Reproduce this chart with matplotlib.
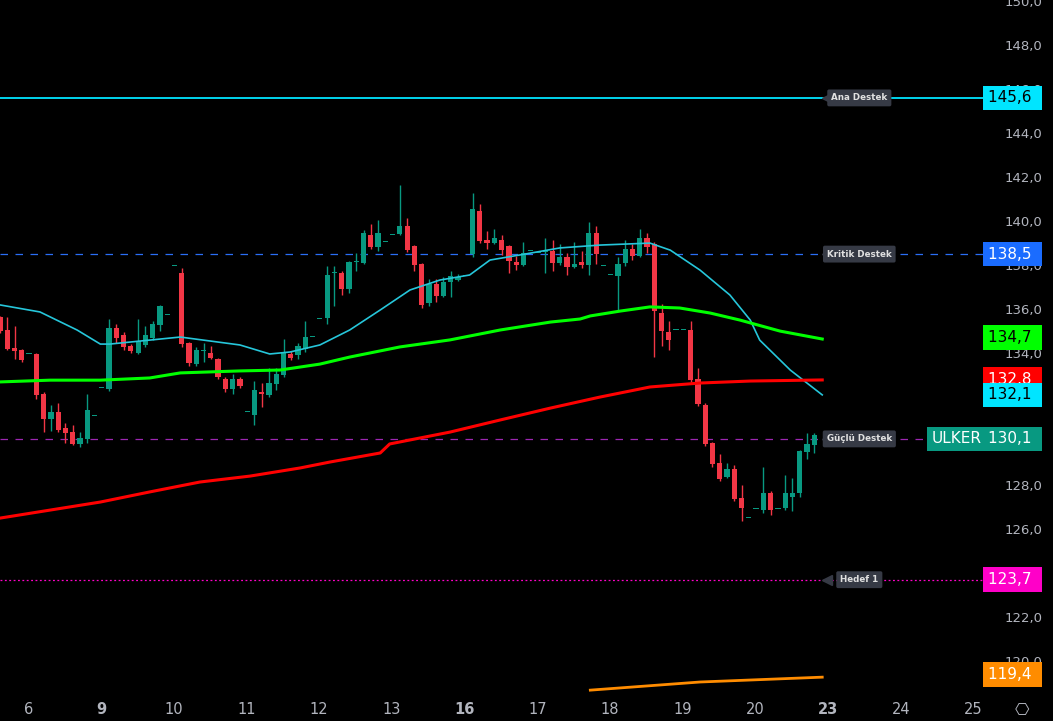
import matplotlib
matplotlib.use("Agg")
import matplotlib.pyplot as plt
import numpy as np
from matplotlib.ticker import FuncFormatter

UP = "#089981"
DOWN = "#f23645"

# hourly candles: open, high, low, close
opens = [135.64, 135.05, 134.23, 134.14, 133.96, 133.96, 132.14, 131.0, 131.32, 130.59,
         130.41, 129.86, 130.1, 131.14, 132.41, 132.36, 135.14, 134.82, 134.32, 134.0,
         134.36, 134.68, 135.27, 135.73, 137.96, 137.64, 134.45, 133.5, 134.1, 134.0,
         133.73, 132.82, 132.36, 132.82, 131.32, 131.18, 132.23, 132.1, 132.6, 133.0,
         133.96, 133.91, 134.18, 134.73, 135.55, 135.6, 137.64, 137.64, 136.91, 138.14,
         138.1, 139.37, 138.82, 139.05, 139.37, 139.41, 139.77, 138.86, 138.05, 136.27,
         137.14, 136.59, 137.23, 137.32, 137.5, 138.5, 140.45, 139.14, 139.0, 139.14,
         138.86, 138.14, 138.0, 138.64, 138.55, 138.6, 138.64, 138.1, 138.36, 137.91,
         138.14, 138.0, 139.46, 137.96, 137.55, 137.5, 138.1, 138.73, 138.41, 139.23,
         138.96, 135.82, 134.96, 135.05, 135.05, 135.05, 132.82, 131.64, 129.91, 129.0,
         128.36, 128.73, 127.41, 126.5, 126.91, 126.86, 127.64, 126.91, 126.95, 127.46,
         127.64, 129.5, 129.82]
highs = [135.7, 135.64, 135.23, 134.2, 133.96, 134.0, 132.23, 131.64, 131.73, 130.82,
         130.73, 130.41, 132.14, 131.14, 132.41, 135.55, 135.32, 134.95, 134.4, 135.55,
         135.23, 135.45, 136.2, 135.73, 137.96, 137.87, 134.5, 134.3, 134.45, 134.32,
         133.8, 132.9, 133.05, 132.9, 131.32, 132.73, 132.64, 133.32, 133.32, 134.64,
         134.1, 134.45, 135.45, 134.73, 135.55, 137.96, 137.96, 137.73, 138.2, 138.55,
         139.6, 139.86, 140.05, 139.05, 139.37, 141.64, 140.14, 138.9, 138.1, 137.37,
         137.37, 137.46, 137.73, 137.6, 137.5, 141.27, 140.77, 139.55, 139.64, 139.37,
         138.9, 138.41, 139.05, 138.64, 138.55, 139.23, 139.14, 138.95, 138.55, 139.05,
         138.64, 139.96, 139.77, 137.96, 137.55, 138.37, 139.14, 138.96, 139.64, 139.46,
         139.05, 136.23, 135.46, 135.05, 135.05, 135.46, 133.32, 131.73, 129.95, 129.41,
         129.0, 128.91, 128.0, 126.5, 126.91, 128.82, 127.73, 126.91, 128.45, 128.32,
         129.6, 130.37, 130.37]
lows = [134.9, 134.14, 133.73, 133.6, 133.96, 131.9, 130.41, 130.45, 130.41, 129.91,
        129.82, 129.73, 129.91, 131.14, 132.41, 132.3, 134.45, 134.14, 134.0, 133.95,
        134.3, 134.6, 135.0, 135.73, 137.96, 134.3, 133.41, 133.41, 133.6, 133.73,
        132.82, 132.23, 132.14, 132.4, 131.32, 130.73, 131.55, 132.0, 132.32, 132.91,
        133.7, 133.73, 134.05, 134.73, 135.55, 135.32, 136.14, 136.64, 136.73, 137.73,
        138.05, 138.75, 138.64, 139.05, 139.37, 139.35, 138.6, 137.73, 136.05, 136.14,
        136.32, 136.55, 136.55, 137.3, 137.5, 138.36, 139.0, 138.73, 138.95, 138.46,
        137.64, 137.77, 137.95, 138.64, 138.55, 137.64, 137.73, 138.0, 137.55, 137.85,
        137.86, 137.55, 138.05, 137.96, 137.55, 135.96, 137.96, 138.23, 138.36, 138.55,
        133.82, 134.32, 134.14, 135.05, 135.05, 132.7, 131.6, 129.8, 128.82, 128.2,
        128.32, 127.3, 126.36, 126.5, 126.91, 126.73, 126.64, 126.91, 126.86, 126.82,
        127.46, 129.18, 129.46]
closes = [135.0, 134.19, 134.1, 133.68, 133.96, 132.1, 131.0, 131.32, 130.5, 130.36,
          129.86, 130.14, 131.41, 131.14, 132.41, 135.14, 134.68, 134.27, 134.1, 134.55,
          134.82, 135.32, 136.14, 135.73, 137.96, 134.41, 133.55, 134.14, 134.14, 133.77,
          132.91, 132.36, 132.82, 132.5, 131.32, 132.32, 132.14, 132.64, 133.05, 134.05,
          133.77, 134.32, 134.73, 134.73, 135.55, 137.55, 137.64, 136.91, 138.14, 138.14,
          139.46, 138.82, 139.46, 139.05, 139.37, 139.77, 138.68, 138.0, 136.18, 137.14,
          136.59, 137.23, 137.5, 137.46, 137.5, 140.55, 139.1, 139.0, 139.23, 138.68,
          138.18, 138.0, 138.55, 138.64, 138.55, 138.6, 138.1, 138.36, 137.91, 138.05,
          138.0, 139.46, 138.5, 137.96, 137.55, 138.05, 138.73, 138.41, 139.23, 138.82,
          135.91, 135.0, 134.59, 135.05, 135.05, 132.77, 131.68, 129.86, 128.95, 128.27,
          128.73, 127.36, 126.95, 126.5, 126.91, 127.64, 126.86, 126.91, 127.64, 127.64,
          129.55, 129.86, 130.27]

# moving averages sampled at bar index
ma_fast_x = [0, 5.5, 10.6, 13.8, 15.1, 24.8, 33, 37.1, 39.9, 44, 48.1, 52.3, 56.4, 60.5,
             64.6, 67.4, 71.5, 77, 82.5, 89.4, 92.2, 96.3, 100.4, 103.2, 104.5, 108.7, 113.1]
ma_fast_y = [136.19, 135.87, 135.05, 134.41, 134.41, 134.73, 134.37, 133.96, 134.05, 134.37,
             135.05, 135.96, 136.87, 137.32, 137.55, 138.23, 138.46, 138.78, 138.91, 139.0,
             138.68, 137.77, 136.64, 135.5, 134.59, 133.23, 132.1]
ma_mid_x = [0, 6.9, 13.8, 20.6, 24.8, 33, 38.5, 44, 48.1, 55, 61.9, 68.8, 75.7, 79.8, 81.2,
            85.3, 89.4, 93.5, 97.7, 101.8, 107.3, 113.1]
ma_mid_y = [132.69, 132.77, 132.77, 132.87, 133.1, 133.19, 133.23, 133.5, 133.82, 134.28,
            134.6, 135.05, 135.41, 135.55, 135.69, 135.91, 136.1, 136.05, 135.82, 135.5,
            135.0, 134.64]
ma_slow_x = [0, 13.8, 20.6, 27.5, 34.4, 41.3, 45.4, 52.3, 53.6, 61.9, 68.8, 75.7, 82.5,
             89.4, 96.3, 103.2, 113.1]
ma_slow_y = [126.5, 127.23, 127.69, 128.14, 128.41, 128.78, 129.05, 129.46, 129.87, 130.41,
             130.96, 131.5, 132.0, 132.46, 132.64, 132.73, 132.78]
ma_long_x = [81.2, 96.3, 113.1]
ma_long_y = [118.68, 119.05, 119.27]

day_labels = ["6", "9", "10", "11", "12", "13", "16", "17", "18", "19", "20", "23", "24", "25"]
bold_days = {"9", "16", "23"}

levels = [("Ana Destek", 145.6, "#00e5ff", "-", "#00e5ff", "black"),
          ("Kritik Destek", 138.5, "#2a6ef5", (0, (6, 6)), "#1a6cff", "white"),
          ("Güçlü Destek", 130.1, "#9c27b0", (0, (6, 6)), "#a100f2", "white"),
          ("Hedef 1", 123.7, "#ff00c8", (0, (1.5, 2)), "#ff00c8", "white")]

ma_tags = [(134.7, "#00ff00", "black"), (132.8, "#ff0000", "white"),
           (132.1, "#00e5ff", "black"), (119.4, "#ff8c00", "white")]
last_price = 130.1

W, H = 1053, 721
fig = plt.figure(figsize=(W / 100, H / 100), dpi=100, facecolor="black")
ax = fig.add_axes([0, 26 / H, 985 / W, 1 - 26 / H], facecolor="black")

n = len(opens)
idx = np.arange(n)
for i in idx:
    o, h, l, c = opens[i], highs[i], lows[i], closes[i]
    col = UP if c >= o else DOWN
    ax.vlines(i, l, h, color=col, lw=1, zorder=3)
    body = max(abs(c - o), 0.04)
    ax.bar(i, body, bottom=min(o, c), width=0.72, color=col, lw=0, zorder=4)

ax.plot(ma_fast_x, ma_fast_y, color="#26c6da", lw=1.2, zorder=5)
ax.plot(ma_mid_x, ma_mid_y, color="#00ff00", lw=2.2, zorder=5)
ax.plot(ma_slow_x, ma_slow_y, color="#ff0000", lw=2.2, zorder=5)
ax.plot(ma_long_x, ma_long_y, color="#ff8c00", lw=2.0, zorder=5)

xmax = 985 / 7.27
ax.set_xlim(0, xmax)
ax.set_ylim(150.05 - 695 / 22, 150.05)


def price_tag(val, face, txt):
    ax.text(xmax + 0.45, val, f"{val:.1f}".replace(".", ",") + " ", color=txt,
            fontsize=11, ha="left", va="center", zorder=9, clip_on=False,
            bbox=dict(boxstyle="square,pad=0.32", fc=face, ec="none"))


for name, val, col, ls, tagc, txtc in levels:
    ax.axhline(val, color=col, lw=1.3 if ls == "-" else 0.9, ls=ls, zorder=2)
    ax.plot(113.75, val, marker="<", ms=7, color="#363a45", zorder=7)
    ax.text(118.2, val, name, color="#e0e0e0", fontsize=6.3, fontweight="bold",
            ha="center", va="center", zorder=8,
            bbox=dict(boxstyle="round,pad=0.45,rounding_size=0.2", fc="#363a45", ec="none"))
    price_tag(val, tagc, txtc)

for val, tagc, txtc in ma_tags:
    price_tag(val, tagc, txtc)

price_tag(last_price, UP, "white")
ax.text(xmax - 0.5, last_price, "ULKER", color="white", fontsize=11, ha="right",
        va="center", zorder=9, bbox=dict(boxstyle="square,pad=0.3", fc=UP, ec="none"))

ax.yaxis.tick_right()
ax.set_yticks(np.arange(120, 151, 2))
ax.yaxis.set_major_formatter(FuncFormatter(lambda v, p: f"{v:.1f}".replace(".", ",")))
ax.tick_params(axis="y", length=0, pad=14, labelsize=9.5, labelcolor="#b2b5be")

ticks = np.arange(len(day_labels)) * 10 + 3.9
ax.set_xticks(ticks)
ax.set_xticklabels(day_labels)
for lab in ax.get_xticklabels():
    if lab.get_text() in bold_days:
        lab.set_fontweight("bold")
ax.tick_params(axis="x", length=0, pad=5, labelsize=10.5, labelcolor="#b2b5be")
for s in ax.spines.values():
    s.set_visible(False)

fig.text(1022 / W, 11 / H, "⎔", color="#b2b5be", fontsize=12, ha="center", va="center")

fig.savefig("out.png", dpi=100, facecolor="black")
